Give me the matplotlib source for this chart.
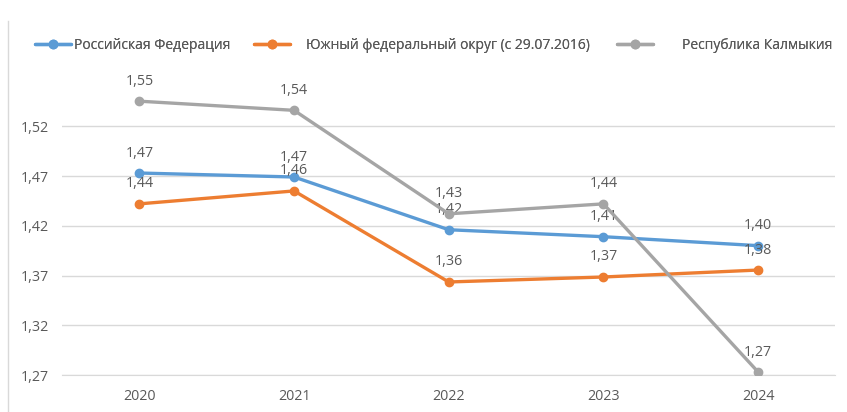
import matplotlib.pyplot as plt
from matplotlib.lines import Line2D

years = ['2020', '2021', '2022', '2023', '2024']
rf = [1.473, 1.469, 1.416, 1.409, 1.400]
south = [1.442, 1.455, 1.3635, 1.3685, 1.3755]
kalm = [1.5452, 1.536, 1.432, 1.442, 1.273]
names = ['Российская Федерация', 'Южный федеральный округ (с 29.07.2016)', 'Республика Калмыкия']
colors = ['#5B9BD5', '#ED7D31', '#A5A5A5']
yticks = [1.27, 1.32, 1.37, 1.42, 1.47, 1.52]

plt.rcParams['font.family'] = ['Open Sans', 'DejaVu Sans']
txt = '#595959'

fig = plt.figure(figsize=(8.47, 4.12), dpi=100)
ax = fig.add_axes([0.0732, 0.0898, 0.9132, 0.7245])

x = list(range(len(years)))
lines = []
for vals, c, n in zip([rf, south, kalm], colors, names):
    ln, = ax.plot(x, vals, color=c, lw=2.4, marker='o', ms=6, label=n, zorder=3,
                  solid_capstyle='round')
    lines.append(ln)
    for xi, v in zip(x, vals):
        ax.annotate(f'{v:.2f}'.replace('.', ','), (xi, v), xytext=(0, 9),
                    textcoords='offset points', ha='center', va='bottom',
                    fontsize=10.3, color=txt)

ax.set_xlim(-0.5, len(years) - 0.5)
ax.set_ylim(1.27, 1.57)
ax.set_xticks(x)
ax.set_xticklabels(years)
ax.set_yticks(yticks)
ax.set_yticklabels([f'{t:.2f}'.replace('.', ',') for t in yticks])
ax.tick_params(length=0, labelsize=10.3, labelcolor=txt, pad=10)
ax.tick_params(axis='y', pad=30)
ax.grid(axis='y', color='#D9D9D9', lw=1)
ax.set_axisbelow(True)
for s in ['top', 'right', 'left']:
    ax.spines[s].set_visible(False)
ax.spines['bottom'].set_color('#D9D9D9')
for lab in ax.get_yticklabels():
    lab.set_horizontalalignment('left')

fig.add_artist(Line2D([0.0095, 0.0095], [0, 0.95], color='#D9D9D9', lw=1))

# legend entries placed one by one, as in the source chart
leg_x = [35, 254, 617]
leg_pad = [0.2, 1.15, 2.1]
for ln, n, lx, pad in zip(lines, names, leg_x, leg_pad):
    lg = fig.legend([ln], [n], loc='center left', bbox_to_anchor=(lx / 847, 0.89),
                    frameon=False, fontsize=10, labelcolor=txt, handlelength=2.6,
                    handletextpad=pad, borderpad=0, borderaxespad=0)
    fig.add_artist(lg)

fig.savefig('out.png', dpi=100)
